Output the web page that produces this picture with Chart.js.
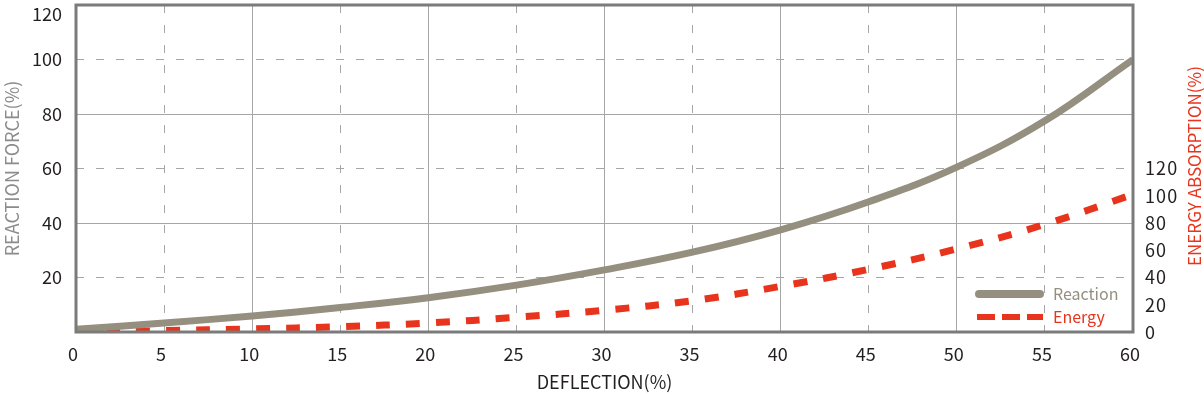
<!DOCTYPE html>
<html>
<head>
<meta charset="utf-8">
<script src="https://cdn.jsdelivr.net/npm/chart.js@4"></script>
<style>
  html, body { margin: 0; padding: 0; background: #fff; }
  #wrap { width: 1204px; height: 395px; }
</style>
</head>
<body>
<div id="wrap"><canvas id="chart"></canvas></div>
<script>
// deflection (%) along the x axis
const deflection = [0, 5, 10, 15, 20, 25, 30, 35, 40, 45, 50, 55, 60];
// reaction force (%), left axis
const reaction = [1, 3.3, 5.9, 9, 12.6, 17.2, 22.8, 29.3, 37.5, 47.8, 60.5, 77.5, 100];
// energy absorption (%), right axis
const energy = [0, 1, 2.3, 3.9, 6.6, 10.8, 16, 23, 33.5, 46, 61, 79, 101];

const FONT = '"Noto Sans CJK KR", "Noto Sans", sans-serif';
const GRAY = '#958f80';
const RED = '#e8341c';
const TEXT = '#231f20';

const toPoints = (xs, ys) => xs.map((x, i) => ({ x: x, y: ys[i] }));

// grid line dash: every other line dashed
const dashEvery = (step) => (ctx) => {
  if (!ctx.tick) return [];
  return Math.round(ctx.tick.value / step) % 2 === 1 ? [8, 12] : [];
};

// frame, top tick label, right title and legend drawn on top
const decor = {
  id: 'decor',
  afterDatasetsDraw(chart) {
    const { ctx, chartArea: a } = chart;
    const yScale = chart.scales.y;
    ctx.save();
    ctx.strokeStyle = '#7b7b7b';
    ctx.lineWidth = 3;
    ctx.strokeRect(a.left, a.top, a.right - a.left, a.bottom - a.top);

    // top label of the left axis sits just below the frame
    ctx.font = '18px ' + FONT;
    ctx.fillStyle = TEXT;
    ctx.textAlign = 'right';
    ctx.textBaseline = 'middle';
    ctx.fillText(String(yScale.max), a.left - 14, yScale.getPixelForValue(yScale.max) + 9);

    // legend
    ctx.lineWidth = 8;
    ctx.lineCap = 'round';
    ctx.strokeStyle = GRAY;
    ctx.beginPath();
    ctx.moveTo(a.right - 154, a.bottom - 38);
    ctx.lineTo(a.right - 93, a.bottom - 38);
    ctx.stroke();

    ctx.lineCap = 'butt';
    ctx.lineWidth = 6;
    ctx.strokeStyle = RED;
    ctx.setLineDash([18, 7]);
    ctx.beginPath();
    ctx.moveTo(a.right - 156, a.bottom - 15);
    ctx.lineTo(a.right - 90, a.bottom - 15);
    ctx.stroke();
    ctx.setLineDash([]);

    ctx.font = '16px ' + FONT;
    ctx.textAlign = 'left';
    ctx.fillStyle = GRAY;
    ctx.fillText('Reaction', a.right - 80, a.bottom - 38);
    ctx.fillStyle = RED;
    ctx.fillText('Energy', a.right - 80, a.bottom - 15);

    // right axis title, reading bottom to top
    ctx.font = '17px ' + FONT;
    ctx.translate(1195, 166);
    ctx.rotate(-Math.PI / 2);
    ctx.textAlign = 'center';
    ctx.fillText('ENERGY ABSORPTION(%)', 0, 0);
    ctx.restore();
  }
};

const noPad = (scale) => {
  scale.paddingTop = 0;
  scale.paddingBottom = 0;
  scale.paddingLeft = 0;
  scale.paddingRight = 0;
};

new Chart(document.getElementById('chart'), {
  type: 'line',
  data: {
    datasets: [
      {
        label: 'Reaction',
        data: toPoints(deflection, reaction),
        borderColor: GRAY,
        borderWidth: 7,
        pointRadius: 0,
        tension: 0.4,
        yAxisID: 'y',
      },
      {
        label: 'Energy',
        data: toPoints(deflection, energy),
        borderColor: RED,
        borderWidth: 7,
        borderDash: [14, 16],
        pointRadius: 0,
        tension: 0.4,
        yAxisID: 'y2',
      },
    ],
  },
  options: {
    responsive: true,
    maintainAspectRatio: false,
    animation: false,
    layout: { padding: { top: 5, left: 0, right: 0, bottom: 0 } },
    plugins: {
      legend: { display: false },
      tooltip: { enabled: false },
    },
    scales: {
      x: {
        type: 'linear',
        min: 0,
        max: 60,
        ticks: {
          stepSize: 5,
          color: TEXT,
          font: { family: FONT, size: 18 },
          padding: 11,
          labelOffset: -3,
        },
        grid: { color: '#a6a6a6', lineWidth: 1, drawTicks: false },
        border: { display: false, dash: dashEvery(5) },
        title: {
          display: true,
          text: 'DEFLECTION(%)',
          color: TEXT,
          font: { family: FONT, size: 18 },
          padding: { top: 0, bottom: 2 },
        },
        afterFit(scale) { scale.height = 63; noPad(scale); },
      },
      y: {
        position: 'left',
        min: 0,
        max: 120,
        ticks: {
          stepSize: 20,
          color: TEXT,
          font: { family: FONT, size: 18 },
          padding: 14,
          callback: (v) => (v === 0 || v === 120 ? '' : v),
        },
        grid: { color: '#a6a6a6', lineWidth: 1, drawTicks: false },
        border: { display: false, dash: dashEvery(20) },
        title: {
          display: true,
          text: 'REACTION FORCE(%)',
          color: '#8c8c8c',
          font: { family: FONT, size: 18 },
          padding: { top: 1, bottom: 0 },
        },
        afterFit(scale) { scale.width = 76; noPad(scale); },
      },
      y2: {
        position: 'right',
        min: 0,
        max: 240,
        ticks: {
          stepSize: 20,
          color: TEXT,
          font: { family: FONT, size: 18 },
          padding: 12,
          callback: (v) => (v <= 120 ? String(v).split('').join('\u200A') : ''),
        },
        grid: { display: false, drawTicks: false },
        border: { display: false },
        afterFit(scale) { scale.width = 71; noPad(scale); },
      },
    },
  },
  plugins: [decor],
});
</script>
</body>
</html>
